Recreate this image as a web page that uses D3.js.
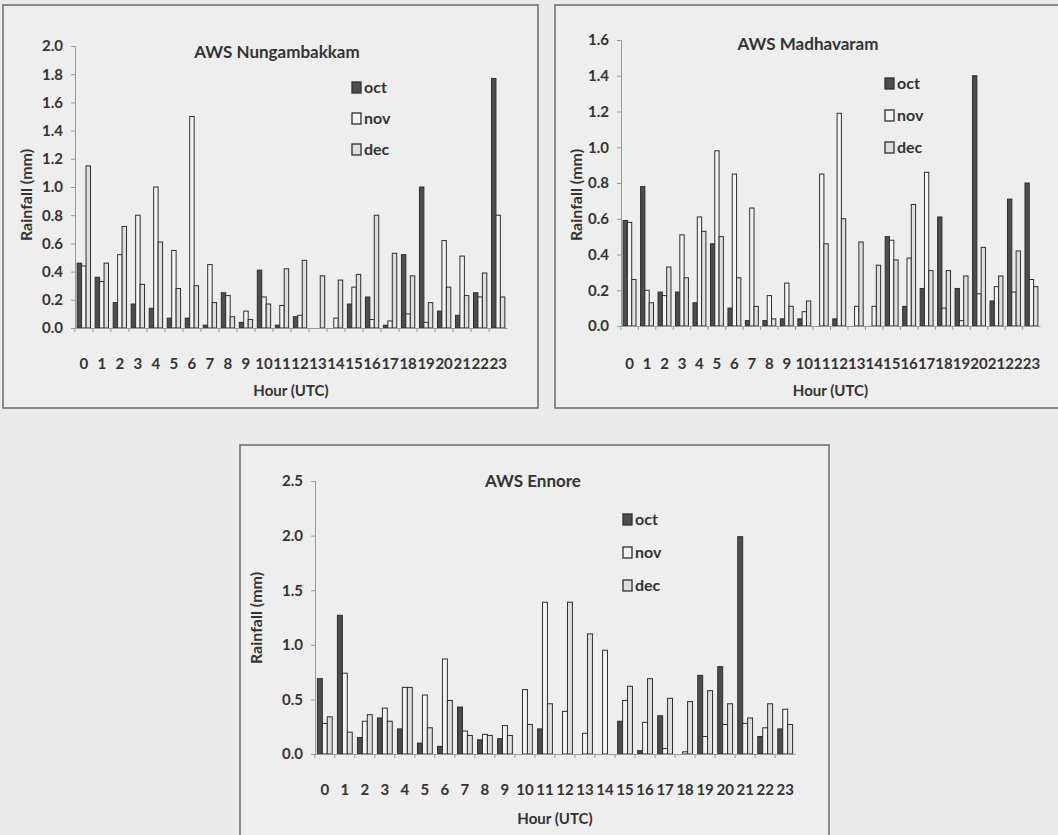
<!DOCTYPE html>
<html>
<head>
<meta charset="utf-8">
<script src="https://cdn.jsdelivr.net/npm/d3@7"></script>
<style>
  body { margin: 0; background: #ebebeb; }
  svg { display: block; }
  text { font-family: Lato, 'Liberation Sans Narrow', 'Open Sans', sans-serif; fill: #333; }
</style>
</head>
<body>
<div id="chart"></div>
<script>
// hourly rainfall (mm), hours 0..23 UTC
const hours = d3.range(24);
const months = ['oct', 'nov', 'dec'];

const nungOct = [0.46, 0.36, 0.18, 0.17, 0.14, 0.07, 0.07, 0.02, 0.25, 0.04, 0.41, 0.02, 0.08, 0.00, 0.00, 0.17, 0.22, 0.02, 0.52, 1.00, 0.12, 0.09, 0.25, 1.77];
const nungNov = [0.44, 0.33, 0.52, 0.80, 1.00, 0.55, 1.50, 0.45, 0.23, 0.12, 0.22, 0.16, 0.09, 0.00, 0.07, 0.29, 0.06, 0.05, 0.10, 0.04, 0.62, 0.51, 0.22, 0.80];
const nungDec = [1.15, 0.46, 0.72, 0.31, 0.61, 0.28, 0.30, 0.18, 0.08, 0.06, 0.17, 0.42, 0.48, 0.37, 0.34, 0.38, 0.80, 0.53, 0.37, 0.18, 0.29, 0.23, 0.39, 0.22];

const madhOct = [0.59, 0.78, 0.19, 0.19, 0.13, 0.46, 0.10, 0.03, 0.03, 0.04, 0.04, 0.00, 0.04, 0.00, 0.00, 0.50, 0.11, 0.21, 0.61, 0.21, 1.40, 0.14, 0.71, 0.80];
const madhNov = [0.58, 0.20, 0.17, 0.51, 0.61, 0.98, 0.85, 0.66, 0.17, 0.24, 0.08, 0.85, 1.19, 0.11, 0.11, 0.48, 0.38, 0.86, 0.10, 0.03, 0.18, 0.22, 0.19, 0.26];
const madhDec = [0.26, 0.13, 0.33, 0.27, 0.53, 0.50, 0.27, 0.11, 0.04, 0.11, 0.14, 0.46, 0.60, 0.47, 0.34, 0.37, 0.68, 0.31, 0.31, 0.28, 0.44, 0.28, 0.42, 0.22];

const ennOct = [0.69, 1.27, 0.15, 0.33, 0.23, 0.10, 0.07, 0.43, 0.13, 0.14, 0.00, 0.23, 0.00, 0.00, 0.00, 0.30, 0.03, 0.35, 0.00, 0.72, 0.80, 1.99, 0.16, 0.23];
const ennNov = [0.28, 0.74, 0.30, 0.42, 0.61, 0.54, 0.87, 0.21, 0.18, 0.26, 0.59, 1.39, 0.39, 0.19, 0.95, 0.49, 0.29, 0.05, 0.02, 0.16, 0.27, 0.28, 0.24, 0.41];
const ennDec = [0.34, 0.20, 0.36, 0.30, 0.61, 0.24, 0.49, 0.17, 0.17, 0.17, 0.27, 0.46, 1.39, 1.10, 0.00, 0.62, 0.69, 0.51, 0.48, 0.58, 0.46, 0.33, 0.46, 0.27];

const fills = { oct: '#4d4d4d', nov: '#f4f4f4', dec: '#dedede' };

const svg = d3.select('#chart').append('svg')
    .attr('width', 1058)
    .attr('height', 835);

// one panel per station
function panel(cfg) {
  let g = svg.append('g');

  // frame round the chart
  g.append('rect')
      .attr('x', cfg.box[0]).attr('y', cfg.box[1])
      .attr('width', cfg.box[2] - cfg.box[0]).attr('height', cfg.box[3] - cfg.box[1])
      .attr('fill', '#eeeeee')
      .attr('stroke', '#6a6a6a')
      .attr('stroke-width', 1.5);

  let x = d3.scaleBand().domain(hours).range([cfg.left, cfg.right]).paddingInner(0.26).paddingOuter(0.12);
  let xm = d3.scaleBand().domain(months).range([0, x.bandwidth()]);
  let y = d3.scaleLinear().domain([0, cfg.max]).range([cfg.bottom, cfg.top]);

  let rows = hours.map(h => ({ hour: h, oct: cfg.oct[h], nov: cfg.nov[h], dec: cfg.dec[h] }));

  g.append('g').selectAll('g')
    .data(rows)
    .join('g')
      .attr('transform', d => 'translate(' + x(d.hour) + ',0)')
    .selectAll('rect')
    .data(d => months.map(m => ({ key: m, value: d[m] })))
    .join('rect')
      .attr('x', d => xm(d.key))
      .attr('y', d => y(d.value))
      .attr('width', xm.bandwidth())
      .attr('height', d => cfg.bottom - y(d.value))
      .attr('fill', d => fills[d.key])
      .attr('stroke', '#2e2e2e')
      .attr('stroke-width', 1);

  // Y axis
  let yAxis = g.append('g')
      .attr('transform', 'translate(' + cfg.left + ',0)')
      .call(d3.axisLeft(y).tickValues(d3.range(0, cfg.max + 1e-9, cfg.step)).tickFormat(d3.format('.1f')).tickSize(4).tickPadding(8));
  yAxis.selectAll('text').style('font-size', '15px').style('font-weight', 'bold').attr('fill', '#3a3a3a');
  yAxis.selectAll('line, path').attr('stroke', '#9a9a9a');

  // X axis, ticks between the hour groups
  let xAxis = g.append('g')
      .attr('transform', 'translate(0,' + cfg.bottom + ')')
      .call(d3.axisBottom(x).tickSize(0).tickPadding(cfg.labelGap));
  xAxis.selectAll('text').style('font-size', '15px').style('font-weight', 'bold').attr('fill', '#3a3a3a');
  xAxis.select('path').attr('stroke', '#9a9a9a');
  xAxis.selectAll('.sep')
    .data(hours)
    .join('line')
      .attr('class', 'sep')
      .attr('x1', d => x(d) - x.step() * x.paddingInner() / 2)
      .attr('x2', d => x(d) - x.step() * x.paddingInner() / 2)
      .attr('y1', 0).attr('y2', 4)
      .attr('stroke', '#9a9a9a');

  g.append('text')
      .attr('x', cfg.titleX).attr('y', cfg.titleY)
      .attr('text-anchor', 'middle')
      .style('font-size', '17px').style('font-weight', 'bold')
      .text(cfg.title);

  g.append('text')
      .attr('x', (cfg.left + cfg.right) / 2).attr('y', cfg.hourY)
      .attr('text-anchor', 'middle')
      .style('font-size', '15px').style('font-weight', 'bold')
      .text('Hour (UTC)');

  g.append('text')
      .attr('transform', 'translate(' + cfg.yTitleX + ',' + cfg.yTitleY + ') rotate(-90)')
      .attr('text-anchor', 'middle')
      .style('font-size', '16px').style('font-weight', 'bold')
      .text('Rainfall (mm)');

  // legend
  let leg = g.append('g').selectAll('g')
    .data(months)
    .join('g')
      .attr('transform', (d, i) => 'translate(' + cfg.legX + ',' + (cfg.legY + i * cfg.legGap) + ')');
  leg.append('rect')
      .attr('x', 0).attr('y', -6).attr('width', 9).attr('height', 11)
      .attr('fill', d => fills[d]).attr('stroke', '#2e2e2e').attr('stroke-width', 1.3);
  leg.append('text')
      .attr('x', 12).attr('y', 5)
      .style('font-size', '16px').style('font-weight', 'bold')
      .text(d => d);
}

panel({
  title: 'AWS Nungambakkam', oct: nungOct, nov: nungNov, dec: nungDec,
  box: [3, 5, 538, 408], left: 75, right: 507, top: 46, bottom: 328, max: 2.0, step: 0.2,
  titleX: 277, titleY: 58, hourY: 396, labelGap: 30, yTitleX: 32, yTitleY: 195,
  legX: 352, legY: 88, legGap: 31
});

panel({
  title: 'AWS Madhavaram', oct: madhOct, nov: madhNov, dec: madhDec,
  box: [555, 5, 1062, 408], left: 621, right: 1040, top: 40, bottom: 326, max: 1.6, step: 0.2,
  titleX: 808, titleY: 50, hourY: 396, labelGap: 32, yTitleX: 582, yTitleY: 195,
  legX: 885, legY: 84, legGap: 32
});

panel({
  title: 'AWS Ennore', oct: ennOct, nov: ennNov, dec: ennDec,
  box: [240, 445, 829, 845], left: 315, right: 795, top: 481, bottom: 754, max: 2.5, step: 0.5,
  titleX: 533, titleY: 487, hourY: 824, labelGap: 30, yTitleX: 262, yTitleY: 618,
  legX: 623, legY: 520, legGap: 33
});
</script>
</body>
</html>
